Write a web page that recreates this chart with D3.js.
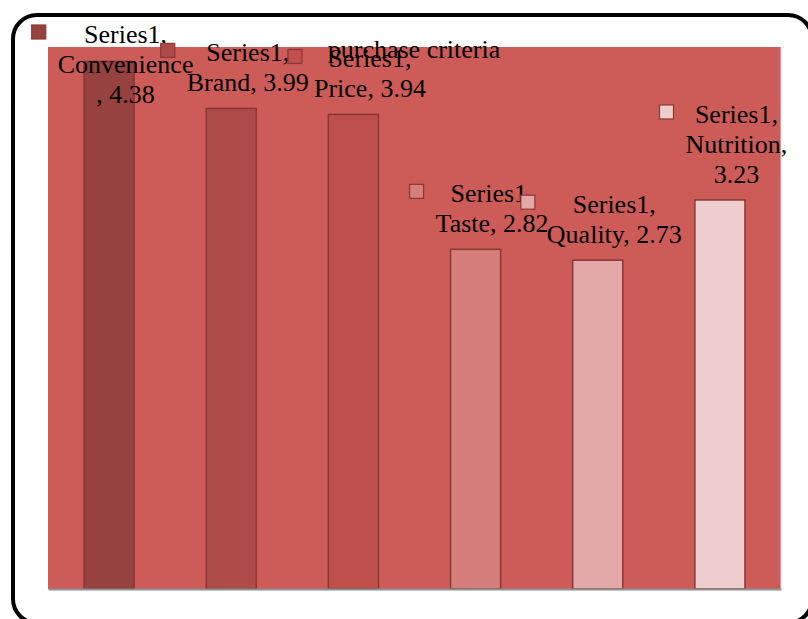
<!DOCTYPE html>
<html>
<head>
<meta charset="utf-8">
<script src="https://cdn.jsdelivr.net/npm/d3@7"></script>
<style>
  html, body { margin: 0; padding: 0; background: #ffffff; overflow: hidden; }
  svg { display: block; }
  text { font-family: "Liberation Serif", "Times New Roman", serif; }
</style>
</head>
<body>
<script>
// ---- data ----
const seriesName = "Series1";
const chartTitle = "purchase criteria";
const categories = ["Convenience", "Brand", "Price", "Taste", "Quality", "Nutrition"];
const values = [4.38, 3.99, 3.94, 2.82, 2.73, 3.23];
const labelLines = [
  ["Series1,", "Convenience", ", 4.38"],
  ["Series1,", "Brand, 3.99"],
  ["Series1,", "Price, 3.94"],
  ["Series1,", "Taste, 2.82"],
  ["Series1,", "Quality, 2.73"],
  ["Series1,", "Nutrition,", "3.23"]
];
const yDomain = [0, 4.5];

// ---- styles ----
const barColors = ["#954241", "#AD4B49", "#C0504D", "#D57E7C", "#E2A9A8", "#EDCDCD"];
const barStroke = "#8A3735";
const plotBg = "#CD5B58";

const W = 808, H = 619;
const plot = { left: 48, right: 781, top: 47, bottom: 589 };

const svg = d3.select("body").append("svg").attr("width", W).attr("height", H);

// outer rounded frame (right and bottom edges run off the picture)
svg.append("rect")
  .attr("x", 13).attr("y", 15).attr("width", 799).attr("height", 608)
  .attr("rx", 24).attr("ry", 24)
  .attr("fill", "#ffffff").attr("stroke", "#000").attr("stroke-width", 4);

// plot background
svg.append("rect")
  .attr("x", plot.left).attr("y", plot.top)
  .attr("width", plot.right - plot.left).attr("height", plot.bottom - plot.top)
  .attr("fill", plotBg);
svg.append("line")
  .attr("x1", plot.right).attr("x2", plot.right)
  .attr("y1", plot.top).attr("y2", plot.bottom)
  .attr("stroke", "#F2D6D5").attr("stroke-width", 1);

const x = d3.scaleBand().domain(categories).range([plot.left, plot.right])
  .paddingInner(0.59).paddingOuter(0.295);
const y = d3.scaleLinear().domain(yDomain).range([plot.bottom, plot.top]);

// bars
svg.append("g").selectAll("rect").data(categories).join("rect")
  .attr("x", d => x(d))
  .attr("y", (d, i) => y(values[i]))
  .attr("width", x.bandwidth())
  .attr("height", (d, i) => y(0) - y(values[i]))
  .attr("fill", (d, i) => barColors[i])
  .attr("stroke", barStroke).attr("stroke-width", 1.5);

// category axis line (no tick labels)
const xAxis = d3.axisBottom(x).tickSize(0).tickFormat("");
const ax = svg.append("g").attr("transform", `translate(0,${plot.bottom})`).call(xAxis);
ax.select(".domain").attr("stroke", "#8f8f8f").attr("stroke-width", 2);

// data labels with legend keys
const fontSize = 26, lineH = 30;
const labelsG = svg.append("g");
categories.forEach((c, i) => {
  const cx = x(c) + x.bandwidth() / 2 + 16.5;
  const lines = labelLines[i];
  let firstBase = y(values[i]) - 17 - (lines.length - 1) * lineH;
  if (firstBase < 43) firstBase = 43;
  const g = labelsG.append("g");
  const t = g.append("text")
    .attr("text-anchor", "middle")
    .attr("font-size", fontSize)
    .attr("fill", "#000");
  let maxW = 0;
  lines.forEach((ln, k) => {
    const ts = t.append("tspan").attr("x", cx).attr("y", firstBase + k * lineH).text(ln);
    maxW = Math.max(maxW, ts.node().getComputedTextLength());
  });
  const keySize = 14;
  g.append("rect")
    .attr("x", cx - maxW / 2 - 12 - keySize)
    .attr("y", firstBase - 18)
    .attr("width", keySize).attr("height", keySize)
    .attr("fill", barColors[i])
    .attr("stroke", barStroke).attr("stroke-width", 1.2);
});

// title
svg.append("text")
  .attr("x", 414).attr("y", 58)
  .attr("text-anchor", "middle")
  .attr("font-size", fontSize)
  .attr("fill", "#000")
  .text(chartTitle);
</script>
</body>
</html>
